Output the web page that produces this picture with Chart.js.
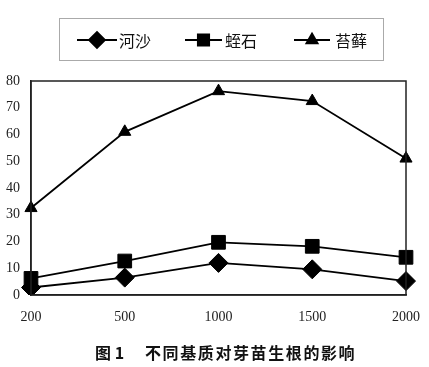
<!DOCTYPE html>
<html>
<head>
<meta charset="utf-8">
<script src="https://cdn.jsdelivr.net/npm/chart.js@4/dist/chart.umd.min.js"></script>
<style>
  html, body { margin: 0; padding: 0; background: #fff; }
  #wrap { width: 429px; height: 367px; position: relative; }
</style>
</head>
<body>
<div id="wrap"><canvas id="chart" width="429" height="367"></canvas></div>
<script>
// data
const categories = ["200", "500", "1000", "1500", "2000"];
const seriesNames = ["河沙", "蛭石", "苔藓"];
const heSha = [2.8, 6.5, 12, 9.6, 5.2];
const zhiShi = [6.2, 12.7, 19.7, 18.2, 14.1];
const taiXian = [32.5, 61, 76.2, 72.5, 51];
const yTicks = [0, 10, 20, 30, 40, 50, 60, 70, 80];
const figLabel = "图 1";
const figTitle = "不同基质对芽苗生根的影响";

const serif = "'Liberation Serif', 'DejaVu Serif', serif";
const cjk = "'Noto Sans CJK SC', sans-serif";

const markers = [
  { style: "rectRot", radius: 9.5 },
  { style: "rect", radius: 9.7 },
  { style: "triangle", radius: 7 }
];

// boxed legend on top, frame round the plot and the caption underneath
const legendBox = {
  id: "legendBox",
  afterDraw(chart) {
    const ctx = chart.ctx;
    ctx.save();
    ctx.strokeStyle = "#aaa";
    ctx.lineWidth = 1;
    ctx.strokeRect(59.5, 18.5, 324, 42);
    const items = [
      { x0: 77, x1: 117, tx: 119 },
      { x0: 185, x1: 222, tx: 225 },
      { x0: 294, x1: 330, tx: 335 }
    ];
    const y = 40;
    items.forEach((it, i) => {
      ctx.strokeStyle = "#000";
      ctx.lineWidth = 1.8;
      ctx.beginPath();
      ctx.moveTo(it.x0, y);
      ctx.lineTo(it.x1, y);
      ctx.stroke();
      ctx.fillStyle = "#000";
      Chart.helpers.drawPoint(ctx, {
        pointStyle: markers[i].style,
        radius: i === 2 ? 6.5 : 8,
        borderWidth: 1
      }, (it.x0 + it.x1) / 2, y);
      ctx.fillStyle = "#111";
      ctx.font = "16px " + cjk;
      ctx.textBaseline = "middle";
      ctx.fillText(seriesNames[i], it.tx, y + 1);
    });

    const a = chart.chartArea;
    ctx.strokeStyle = "#222";
    ctx.lineWidth = 1.5;
    ctx.strokeRect(a.left, a.top, a.right - a.left, a.bottom - a.top);

    ctx.fillStyle = "#111";
    ctx.font = "bold 16px " + cjk;
    ctx.textBaseline = "middle";
    ctx.letterSpacing = "0px";
    ctx.fillText(figLabel, 95, 353);
    ctx.letterSpacing = "1.6px";
    ctx.fillText(figTitle, 145, 353);
    ctx.restore();
  }
};

const seriesData = [heSha, zhiShi, taiXian];

new Chart(document.getElementById("chart"), {
  type: "line",
  data: {
    labels: categories,
    datasets: seriesData.map((d, i) => ({
      label: seriesNames[i],
      data: d,
      borderColor: "#000",
      backgroundColor: "#000",
      borderWidth: 1.8,
      tension: 0,
      pointStyle: markers[i].style,
      pointRadius: markers[i].radius,
      pointHoverRadius: markers[i].radius,
      pointBackgroundColor: "#000",
      pointBorderColor: "#000",
      pointBorderWidth: 1
    }))
  },
  options: {
    responsive: false,
    animation: false,
    devicePixelRatio: 1,
    layout: { padding: { left: 0, right: 23, top: 81, bottom: 32 } },
    plugins: {
      legend: { display: false },
      tooltip: { enabled: false },
      title: { display: false }
    },
    scales: {
      x: {
        type: "category",
        offset: false,
        grid: { display: false, drawTicks: false },
        border: { display: true, color: "#222", width: 1.5 },
        ticks: { color: "#222", font: { family: serif, size: 14 }, padding: 14, maxRotation: 0 },
        afterFit(scale) {
          scale.height = 40;
          scale.paddingLeft = 0;
          scale.paddingRight = 0;
        }
      },
      y: {
        min: 0,
        max: 80,
        afterBuildTicks(scale) { scale.ticks = yTicks.map(v => ({ value: v })); },
        grid: { display: false, drawTicks: false },
        border: { display: true, color: "#222", width: 1.5 },
        ticks: { color: "#222", font: { family: serif, size: 14 }, padding: 11 },
        afterFit(scale) { scale.width = 31; }
      }
    }
  },
  plugins: [legendBox]
});
</script>
</body>
</html>
